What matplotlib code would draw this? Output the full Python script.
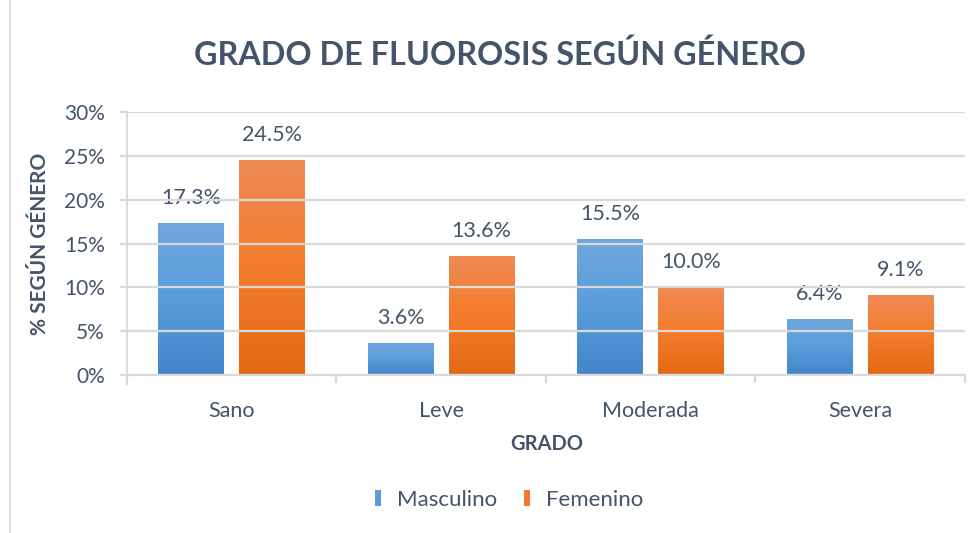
import numpy as np
import matplotlib.pyplot as plt
from matplotlib.colors import LinearSegmentedColormap
from matplotlib.lines import Line2D

grados = ['Sano', 'Leve', 'Moderada', 'Severa']
masculino = [17.3, 3.6, 15.5, 6.4]
femenino = [24.5, 13.6, 10.0, 9.1]
series = ['Masculino', 'Femenino']

txt = '#44546A'
grid_c = '#d9d9d9'
plt.rcParams['font.family'] = ['Lato', 'DejaVu Sans']

fig = plt.figure(figsize=(9.78, 5.33), dpi=100)
ax = fig.add_axes([127 / 978, 1 - 375 / 533, 838 / 978, 263 / 533])

cmap_b = LinearSegmentedColormap.from_list('b', ['#4286c8', '#5a9ddc', '#70a7dc'])
cmap_o = LinearSegmentedColormap.from_list('o', ['#e36814', '#f47c2b', '#ef8a55'])

x = np.arange(len(grados))
w = 0.315
off = 0.193
grad = np.linspace(0, 1, 256).reshape(-1, 1)

for vals, dx, cm in [(masculino, -off, cmap_b), (femenino, off, cmap_o)]:
    bars = ax.bar(x + dx, vals, w, color='none', edgecolor='none', zorder=1)
    for b, v in zip(bars, vals):
        im = ax.imshow(grad, cmap=cm, origin='lower', aspect='auto',
                       extent=[b.get_x(), b.get_x() + b.get_width(), 0, v],
                       zorder=1.5)
        im.set_clip_path(b)
        ax.text(b.get_x() + b.get_width() / 2, v + 2.85, f'{v:.1f}%',
                ha='center', va='center', fontsize=15.5, color=txt, zorder=2)

ax.set_xlim(-0.5, 3.5)
ax.set_ylim(0, 30)
ax.set_yticks(np.arange(0, 31, 5))
ax.set_yticklabels([f'{t}%' for t in range(0, 31, 5)])
ax.set_xticks(x)
ax.set_xticklabels(grados)
ax.set_xticks(np.arange(-0.5, 4, 1), minor=True)

ax.set_axisbelow(False)
ax.grid(axis='y', color=grid_c, lw=1.6, zorder=3)
for s in ['top', 'right']:
    ax.spines[s].set_visible(False)
ax.spines['left'].set_color(grid_c)
ax.spines['bottom'].set_color(grid_c)
ax.spines['left'].set_linewidth(1.3)
ax.spines['bottom'].set_linewidth(1.6)
ax.spines['left'].set_bounds(-1.0, 30)

ax.tick_params(axis='y', length=5, color=grid_c, width=1.6, pad=11,
               labelsize=15, labelcolor=txt)
ax.tick_params(axis='x', which='major', length=0, pad=19, labelsize=15.5, labelcolor=txt)
ax.tick_params(axis='x', which='minor', length=6, color=grid_c, width=1.6)

fig.text(500 / 978, 1 - 55 / 533, 'GRADO DE FLUOROSIS SEGÚN GÉNERO',
         ha='center', va='center', fontsize=23.3, fontweight='bold', color=txt)
fig.text(40 / 978, 1 - 244 / 533, '% SEGÚN GÉNERO', rotation=90,
         ha='center', va='center', fontsize=15, fontweight='bold', color=txt)
fig.text(547 / 978, 1 - 444 / 533, 'GRADO', ha='center', va='center',
         fontsize=14.5, fontweight='bold', color=txt)

mk = [(-0.35, -1), (0.35, -1), (0.35, 1), (-0.35, 1)]
handles = [Line2D([], [], ls='none', marker=mk, markersize=12, color=c, markeredgewidth=0)
           for c in ['#5a9ddc', '#f07a2c']]
fig.legend(handles, series, loc='center', bbox_to_anchor=(507 / 978, 1 - 500 / 533),
           ncol=2, frameon=False, fontsize=16, labelcolor=txt,
           handlelength=0.7, handletextpad=0.5, columnspacing=1.0)

fig.add_artist(Line2D([10 / 978, 10 / 978], [0, 1], color=grid_c, lw=1.2))

fig.savefig('out.png', dpi=100)
